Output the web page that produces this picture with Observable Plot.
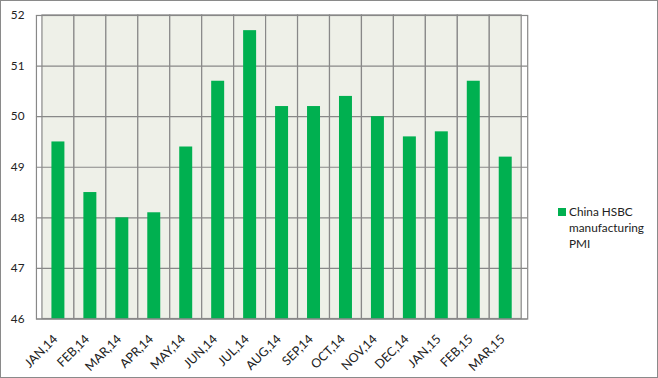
<!DOCTYPE html>
<html>
<head>
<meta charset="utf-8">
<script src="https://cdn.jsdelivr.net/npm/d3@7"></script>
<script src="https://cdn.jsdelivr.net/npm/@observablehq/plot@0.6"></script>
<style>
  body { margin: 0; background: #fff; }
  #wrap { position: relative; width: 658px; height: 378px; box-sizing: border-box; border: 1px solid #8a8a8a; overflow: hidden; font-family: Lato, "Open Sans", sans-serif; }
  #chart { position: absolute; left: -1px; top: -1px; }
  #legend { position: absolute; left: 557px; top: 203px; font-size: 11.8px; color: #222; line-height: 16px; }
  #legend .sw { position: absolute; left: 0; top: 4px; width: 8px; height: 8px; background: #00b050; }
  #legend .tx { margin-left: 11px; }
</style>
</head>
<body>
<div id="wrap">
  <div id="chart"></div>
  <div id="legend"><span class="sw"></span><div class="tx">China HSBC<br>manufacturing<br>PMI</div></div>
</div>
<script>
const months = ["JAN,14","FEB,14","MAR,14","APR,14","MAY,14","JUN,14","JUL,14","AUG,14","SEP,14","OCT,14","NOV,14","DEC,14","JAN,15","FEB,15","MAR,15"];
const pmi = [49.5,48.5,48.0,48.1,49.4,50.7,51.7,50.2,50.2,50.4,50.0,49.6,49.7,50.7,49.2];
const yTicks = [46,47,48,49,50,51,52];
const seriesName = "China HSBC manufacturing PMI";

const data = months.map((m, i) => ({month: m, value: pmi[i]}));

const chart = Plot.plot({
  width: 658,
  height: 378,
  marginLeft: 36,
  marginTop: 15,
  marginRight: 130,
  marginBottom: 59,
  style: {fontFamily: "Lato, 'Open Sans', sans-serif", fontSize: "11.8px", color: "#222", background: "transparent"},
  x: {domain: months, padding: 0, label: null},
  y: {domain: [46, 52], label: null},
  marks: [
    Plot.barY(months, {x: d => d, y1: 46, y2: 52, fill: "#eef0e8", stroke: "#888", strokeWidth: 1.2}),
    Plot.ruleY(yTicks, {stroke: "#888", strokeWidth: 1.2}),
    Plot.barY(data, {x: "month", y1: 46, y2: "value", fill: "#00b050", insetLeft: 9.5, insetRight: 9.5, title: d => `${seriesName}: ${d.value}`}),
    Plot.frame({stroke: "#888", strokeWidth: 1.2}),
    Plot.axisY({ticks: yTicks, tickSize: 0, tickPadding: 12, tickFormat: d => String(d), label: null}),
    Plot.axisX({tickSize: 0, tickPadding: 13, tickRotate: -45, fontSize: 12.5, dx: -3, dy: 5, label: null})
  ]
});
document.getElementById("chart").appendChild(chart);
</script>
</body>
</html>
